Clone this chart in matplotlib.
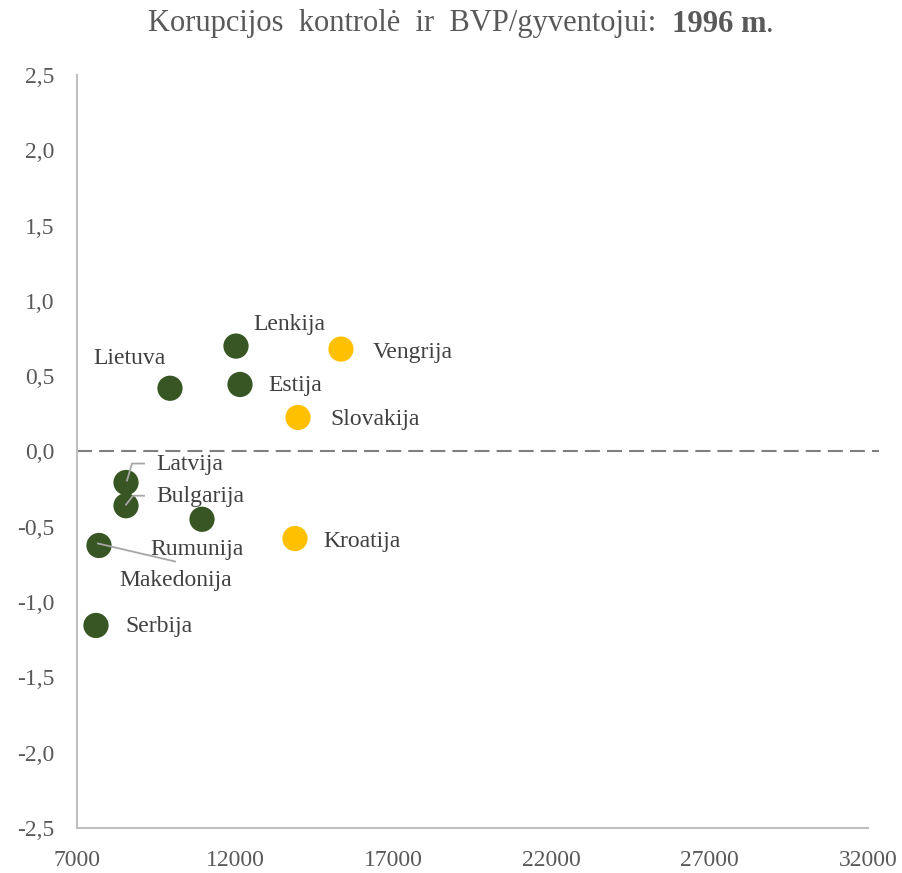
import matplotlib
matplotlib.use('Agg')
import matplotlib.pyplot as plt
from matplotlib.transforms import IdentityTransform

plt.rcParams['font.family'] = ['Liberation Serif', 'DejaVu Serif']

countries = ['Lenkija', 'Vengrija', 'Lietuva', 'Estija', 'Slovakija', 'Latvija',
             'Bulgarija', 'Rumunija', 'Kroatija', 'Makedonija', 'Serbija']
gdp = [12025, 15343, 9939, 12152, 13985, 8549, 8549, 10951, 13890, 7695, 7600]
corruption = [0.70, 0.68, 0.42, 0.445, 0.226, -0.206, -0.36, -0.45, -0.578, -0.624, -1.155]
group = ['g', 'y', 'g', 'g', 'y', 'g', 'g', 'g', 'y', 'g', 'g']

colors = {'g': '#375623', 'y': '#FFC000'}
text_color = '#404040'
tick_color = '#595959'

# label offsets in pixels (dx, dy) from the marker centre
offsets = {
    'Lenkija': (17, 22), 'Vengrija': (32, -3), 'Lietuva': (-77, 30),
    'Estija': (28, -1), 'Slovakija': (32, -2), 'Latvija': (30, 18),
    'Bulgarija': (30, 9), 'Rumunija': (-52, -30), 'Kroatija': (28, -3),
    'Makedonija': (20, -35), 'Serbija': (29, -1),
}
leaders = {
    'Latvija': [(1, 2), (6, 19), (18, 19)],
    'Bulgarija': [(0, 1), (7, 10), (18, 10)],
    'Makedonija': [(-1, 2), (76, -16)],
}

fig = plt.figure(figsize=(9.03, 8.73), dpi=100)
ax = fig.add_axes([77 / 903, 1 - 828 / 873, 791 / 903, 753 / 873])

ax.set_xlim(7000, 32000)
ax.set_ylim(-2.5, 2.5)
ax.set_xticks(range(7000, 32001, 5000))
ax.set_yticks([-2.5, -2.0, -1.5, -1.0, -0.5, 0.0, 0.5, 1.0, 1.5, 2.0, 2.5])
ax.set_yticklabels([f'{v:.1f}'.replace('.', ',') for v in ax.get_yticks()])

for side in ['top', 'right']:
    ax.spines[side].set_visible(False)
for side in ['left', 'bottom']:
    ax.spines[side].set_color('#BFBFBF')
    ax.spines[side].set_linewidth(1.5)
ax.tick_params(length=0, labelsize=17, colors=tick_color)
ax.tick_params(axis='y', pad=16)
ax.tick_params(axis='x', pad=16)

ax.axhline(0, xmax=1.014, color='#7F7F7F', lw=1.5, ls=(0, (7.2, 3.4)),
           zorder=1, clip_on=False)

ax.scatter(gdp, corruption, s=330, c=[colors[g] for g in group],
           linewidths=0, zorder=3)

fig.canvas.draw()
for name, x, y in zip(countries, gdp, corruption):
    dx, dy = offsets[name]
    ax.annotate(name, (x, y), xytext=(dx, dy), textcoords='offset pixels',
                ha='left', va='center', fontsize=17, color=text_color)
    if name in leaders:
        px, py = ax.transData.transform((x, y))
        pts = leaders[name]
        fig.add_artist(plt.Line2D([px + a for a, b in pts], [py + b for a, b in pts],
                                  transform=IdentityTransform(),
                                  color='#A6A6A6', lw=1.3, zorder=4))

# title: regular text followed by bold year
t1 = fig.text(148 / 903, 1 - 24 / 873, 'Korupcijos  kontrolė  ir  BVP/gyventojui:  ',
              fontsize=22, color=tick_color, ha='left', va='center')
t2 = ax.annotate('1996 m', xy=(1, 0), xycoords=t1, va='bottom', ha='left',
                 fontsize=22, color=tick_color, fontweight='bold')
ax.annotate('.', xy=(1, 0), xycoords=t2, va='bottom', ha='left',
            fontsize=22, color=tick_color)

fig.savefig('out.png', dpi=100)
